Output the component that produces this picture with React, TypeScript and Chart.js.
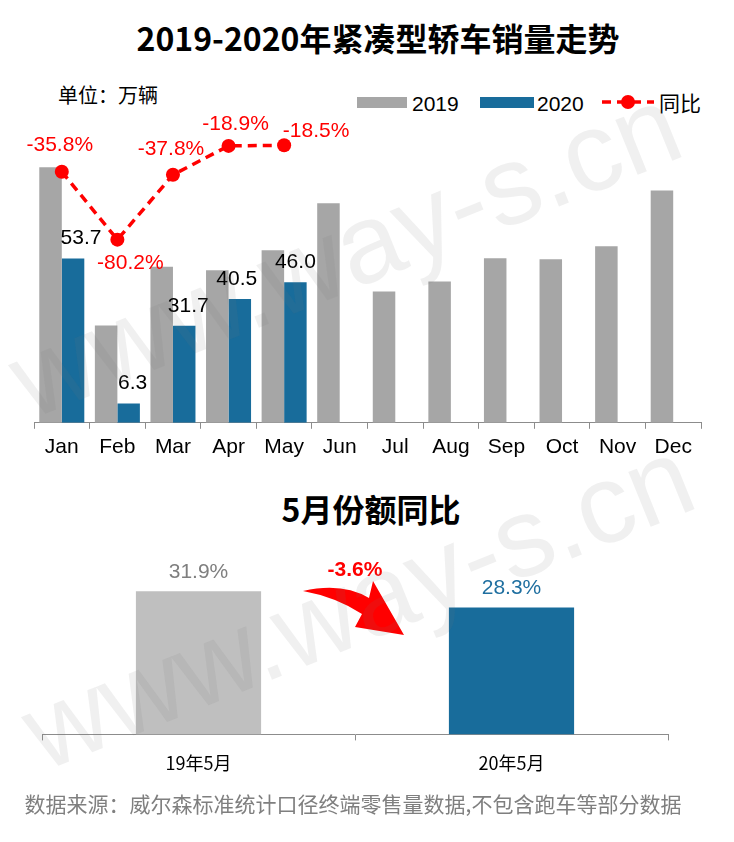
import React, { useEffect, useRef } from "react";
import { Chart, registerables } from "chart.js";

Chart.register(...registerables);

// ---------- data ----------
const months = ["Jan", "Feb", "Mar", "Apr", "May", "Jun", "Jul", "Aug", "Sep", "Oct", "Nov", "Dec"];
const sales2019 = [83.6, 31.8, 51.0, 49.9, 56.4, 71.8, 42.9, 46.2, 53.8, 53.5, 57.7, 76.0];
const sales2020: (number | null)[] = [53.7, 6.3, 31.7, 40.5, 46.0, null, null, null, null, null, null, null];
const yoyPct: (number | null)[] = [-35.8, -80.2, -37.8, -18.9, -18.5, null, null, null, null, null, null, null];
const seriesNames = ["2019", "2020", "同比"];

const shareCategories = ["19年5月", "20年5月"];
const shareValues = [31.9, 28.3];

// ---------- styles ----------
const LATIN = '"Liberation Sans", Arial, sans-serif';
const CJK = '"Noto Sans CJK SC", "Noto Sans", sans-serif';
const GRAY = "#A6A6A6";
const BLUE = "#186C9B";
const RED = "#FF0000";
const AXIS = "#8C8C8C";

// label offsets (layout only)
const valueDx = [8, 4, 4, -3, 0];
const yoyOffsets: [number, number][] = [
  [-2, -27],
  [13, 24],
  [-2, -26],
  [7, -22],
  [32, -14],
];

const topLabelsPlugin = {
  id: "topLabels",
  afterDatasetsDraw(chart: any) {
    const ctx = chart.ctx;
    ctx.save();
    ctx.font = `21px ${LATIN}`;
    ctx.textAlign = "center";
    ctx.textBaseline = "middle";
    const m1 = chart.getDatasetMeta(1);
    m1.data.forEach((el: any, i: number) => {
      const v = sales2020[i];
      if (v == null) return;
      ctx.fillStyle = "#000";
      ctx.fillText(v.toFixed(1), el.x + (valueDx[i] || 0), el.y - 20);
    });
    const m2 = chart.getDatasetMeta(2);
    m2.data.forEach((el: any, i: number) => {
      const v = yoyPct[i];
      if (v == null) return;
      const o = yoyOffsets[i] || [0, -24];
      ctx.fillStyle = RED;
      ctx.fillText(`${v.toFixed(1)}%`, el.x + o[0], el.y + o[1]);
    });
    ctx.restore();
  },
};

const shareLabelColors = ["#7F7F7F", "#1F6FA0"];
const shareLabelsPlugin = {
  id: "shareLabels",
  afterDatasetsDraw(chart: any) {
    const ctx = chart.ctx;
    ctx.save();
    ctx.font = `21px ${LATIN}`;
    ctx.textAlign = "center";
    ctx.textBaseline = "middle";
    chart.getDatasetMeta(0).data.forEach((el: any, i: number) => {
      ctx.fillStyle = shareLabelColors[i];
      ctx.fillText(`${shareValues[i].toFixed(1)}%`, el.x, el.y - 19);
    });
    ctx.restore();
  },
};

function Txt(props: { x: number; y: number; align?: "left" | "center"; style?: any; children: any }) {
  const { x, y, align = "center", style, children } = props;
  return (
    <div
      style={{
        position: "absolute",
        left: x,
        top: y,
        transform: align === "center" ? "translate(-50%, -50%)" : "translate(0, -50%)",
        whiteSpace: "nowrap",
        lineHeight: 1,
        ...style,
      }}
    >
      {children}
    </div>
  );
}

export default function App() {
  const topRef = useRef<HTMLCanvasElement>(null);
  const botRef = useRef<HTMLCanvasElement>(null);

  useEffect(() => {
    const top = new Chart(topRef.current!, {
      type: "bar",
      data: {
        labels: months,
        datasets: [
          {
            type: "bar",
            label: seriesNames[0],
            data: sales2019,
            backgroundColor: GRAY,
            categoryPercentage: 0.81,
            barPercentage: 1.0,
            yAxisID: "y",
            order: 2,
          },
          {
            type: "bar",
            label: seriesNames[1],
            data: sales2020,
            backgroundColor: BLUE,
            categoryPercentage: 0.81,
            barPercentage: 1.0,
            yAxisID: "y",
            order: 2,
          },
          {
            type: "line",
            label: seriesNames[2],
            data: yoyPct,
            borderColor: RED,
            backgroundColor: RED,
            borderWidth: 3.5,
            borderDash: [9, 6],
            pointRadius: 7,
            pointBackgroundColor: RED,
            pointBorderWidth: 0,
            tension: 0,
            spanGaps: false,
            yAxisID: "y1",
            order: 0,
          } as any,
        ],
      },
      options: {
        responsive: false,
        animation: false,
        layout: { padding: { left: 34, right: 33, top: 2, bottom: 4 } },
        plugins: { legend: { display: false }, tooltip: { enabled: false } },
        scales: {
          x: {
            offset: true,
            grid: {
              display: true,
              offset: true,
              drawOnChartArea: false,
              drawTicks: true,
              tickLength: 6,
              color: AXIS,
            },
            border: { display: true, color: AXIS, width: 1 },
            ticks: {
              color: "#000",
              font: { size: 21, family: LATIN },
              padding: 6,
              maxRotation: 0,
              autoSkip: false,
            },
          },
          y: { display: false, min: 0, max: 100 },
          y1: { display: false, min: -200, max: 0 },
        },
      } as any,
      plugins: [topLabelsPlugin],
    });

    const bot = new Chart(botRef.current!, {
      type: "bar",
      data: {
        labels: shareCategories,
        datasets: [
          {
            data: shareValues,
            backgroundColor: ["#BFBFBF", BLUE],
            categoryPercentage: 1.0,
            barPercentage: 0.4,
          },
        ],
      },
      options: {
        responsive: false,
        animation: false,
        layout: { padding: { left: 42, right: 66, top: 15, bottom: 4 } },
        plugins: { legend: { display: false }, tooltip: { enabled: false } },
        scales: {
          x: {
            offset: true,
            grid: {
              display: true,
              offset: true,
              drawOnChartArea: false,
              drawTicks: true,
              tickLength: 6,
              color: AXIS,
            },
            border: { display: true, color: AXIS, width: 1 },
            ticks: {
              color: "#000",
              font: { size: 18, family: CJK },
              padding: 12,
              maxRotation: 0,
            },
          },
          y: { display: false, min: 0, max: 40 },
        },
      } as any,
      plugins: [shareLabelsPlugin],
    });

    return () => {
      top.destroy();
      bot.destroy();
    };
  }, []);

  const diff = shareValues[1] - shareValues[0];

  const watermark = {
    position: "absolute" as const,
    fontFamily: LATIN,
    fontSize: 112,
    color: "rgba(120,120,120,0.11)",
    whiteSpace: "nowrap" as const,
    lineHeight: 1,
    pointerEvents: "none" as const,
  };

  return (
    <div
      style={{
        position: "absolute",
        left: 0,
        top: 0,
        width: 734,
        height: 842,
        background: "#fff",
        overflow: "hidden",
        fontFamily: LATIN,
      }}
    >
      <Txt x={378} y={37} style={{ fontFamily: CJK, fontWeight: 700, fontSize: 32, color: "#000" }}>
        2019-2020年紧凑型轿车销量走势
      </Txt>
      <Txt x={58} y={95} align="left" style={{ fontFamily: CJK, fontSize: 20, color: "#000" }}>
        单位：万辆
      </Txt>

      {/* legend */}
      <div style={{ position: "absolute", left: 357, top: 97, width: 50, height: 11, background: GRAY }} />
      <Txt x={412} y={103} align="left" style={{ fontSize: 21, color: "#000" }}>
        {seriesNames[0]}
      </Txt>
      <div style={{ position: "absolute", left: 480, top: 97, width: 54, height: 11, background: BLUE }} />
      <Txt x={537} y={103} align="left" style={{ fontSize: 21, color: "#000" }}>
        {seriesNames[1]}
      </Txt>
      <svg style={{ position: "absolute", left: 602, top: 94 }} width={52} height={16}>
        <line x1={0} y1={8} x2={52} y2={8} stroke={RED} strokeWidth={3.5} strokeDasharray="9 6" />
        <circle cx={26} cy={8} r={7} fill={RED} />
      </svg>
      <Txt x={659} y={102} align="left" style={{ fontFamily: CJK, fontSize: 21, color: "#000" }}>
        {seriesNames[2]}
      </Txt>

      <canvas ref={topRef} width={734} height={360} style={{ position: "absolute", left: 0, top: 110 }} />

      <Txt x={371} y={508} style={{ fontFamily: CJK, fontWeight: 700, fontSize: 32, color: "#000" }}>
        5月份额同比
      </Txt>

      <canvas ref={botRef} width={734} height={250} style={{ position: "absolute", left: 0, top: 540 }} />

      <Txt x={355} y={568} style={{ fontWeight: 700, fontSize: 21, color: RED }}>
        {`${diff.toFixed(1)}%`}
      </Txt>
      <svg style={{ position: "absolute", left: 0, top: 0 }} width={734} height={842}>
        <path
          d="M303,591 Q342,582 369,598 L373,581 L404,635 L355,627 L362,614 Q336,597 303,591 Z"
          fill={RED}
        />
      </svg>

      <Txt x={353} y={803} style={{ fontFamily: CJK, fontSize: 21, color: "#7F7F7F" }}>
        数据来源：威尔森标准统计口径终端零售量数据,不包含跑车等部分数据
      </Txt>

      {/* watermarks */}
      <div style={{ ...watermark, left: 345, top: 252, transform: "translate(-50%, -50%) rotate(-22deg)" }}>
        www.way-s.cn
      </div>
      <div style={{ ...watermark, left: 358, top: 604, transform: "translate(-50%, -50%) rotate(-22deg)" }}>
        www.way-s.cn
      </div>
    </div>
  );
}
